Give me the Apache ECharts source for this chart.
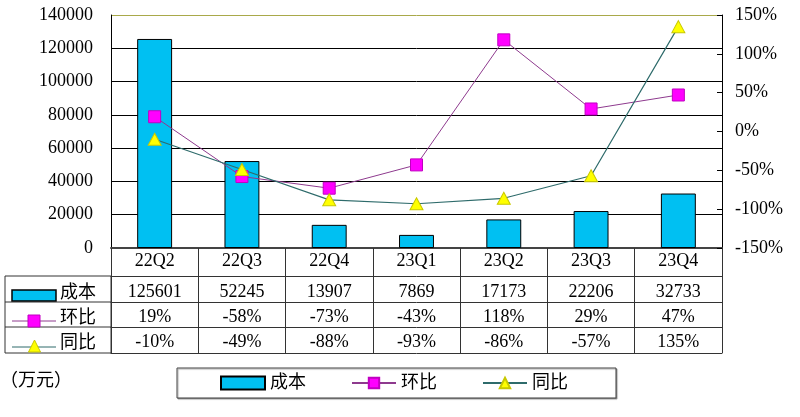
<!DOCTYPE html>
<html>
<head>
<meta charset="utf-8">
<script src="https://cdn.jsdelivr.net/npm/echarts@6/dist/echarts.min.js"></script>
<style>html,body{margin:0;padding:0;background:#fff;}#c{width:800px;height:417px;}</style>
</head>
<body>
<div id="c"></div>
<script>
var categories = ['22Q2','22Q3','22Q4','23Q1','23Q2','23Q3','23Q4'];
var costValues = [125601, 52245, 13907, 7869, 17173, 22206, 32733];
var qoqValues = [19, -58, -73, -43, 118, 29, 47];
var yoyValues = [-10, -49, -88, -93, -86, -57, 135];
var seriesNames = ['成本', '环比', '同比'];
var unitLabel = '（万元）';

var FONT = "'Liberation Serif', 'Noto Sans CJK SC', serif";
var BAR = '#00c0f2';
var QOQ_LINE = '#8e3a8e', QOQ_SYM = '#ff00ff';
var YOY_LINE = '#2e6b6b', YOY_SYM = '#ffff00';
var GRID_C = '#333';

function tableAxis(data, offset, tickLen, margin) {
  return {
    type: 'category', gridIndex: 0, position: 'bottom', offset: offset,
    data: data, boundaryGap: true,
    axisLine: {show: true, onZero: false, lineStyle: {color: GRID_C, width: 1}},
    axisTick: {show: tickLen > 0, interval: 0, length: tickLen, lineStyle: {color: GRID_C, width: 1}},
    axisLabel: {show: margin !== null, interval: 0, margin: margin || 0, color: '#000', fontSize: 18, fontFamily: FONT},
    splitLine: {show: false}, axisPointer: {show: false}
  };
}

var chart = echarts.init(document.getElementById('c'));
var pctFmt = function (v) { return v + '%'; };
var catAxis = tableAxis(categories, 0, 28, 4);
catAxis.axisLine.lineStyle = {color: '#444', width: 2};

chart.setOption({
  animation: false,
  textStyle: {fontFamily: FONT},
  grid: {left: 111, right: 78, top: 15, bottom: 169, containLabel: false},
  xAxis: [
    catAxis,
    tableAxis(costValues.map(String), 28, 26, 7),
    tableAxis(qoqValues.map(pctFmt), 54, 25, 6),
    tableAxis(yoyValues.map(pctFmt), 79, 26, 6),
    tableAxis(categories, 105, 0, null)
  ],
  yAxis: [
    {
      type: 'value', min: 0, max: 140000, interval: 20000, position: 'left',
      axisLine: {show: true, onZero: false, lineStyle: {color: '#000', width: 1}},
      axisTick: {show: false},
      axisLabel: {margin: 18, color: '#000', fontSize: 18, fontFamily: FONT, formatter: function (v) { return String(v); }},
      splitLine: {show: true, lineStyle: {width: 1, color: ['#000','#000','#000','#000','#000','#000','#000','#a9a94a']}}
    },
    {
      type: 'value', min: -150, max: 150, interval: 50, position: 'right',
      axisLine: {show: true, onZero: false, lineStyle: {color: '#000', width: 1}},
      axisTick: {show: true, inside: true, length: 5, lineStyle: {color: '#000'}},
      axisLabel: {margin: 13, color: '#000', fontSize: 18, fontFamily: FONT, formatter: '{value}%'},
      splitLine: {show: false}
    }
  ],
  legend: {
    left: 177, top: 368,
    padding: [6, 48, 6, 43],
    itemGap: 45, itemWidth: 44, itemHeight: 13,
    borderColor: '#444', borderWidth: 1, backgroundColor: '#fff',
    shadowColor: 'rgba(0,0,0,0.35)', shadowOffsetX: 1, shadowOffsetY: 1, shadowBlur: 1,
    textStyle: {fontSize: 18, color: '#000', fontFamily: FONT},
    data: [{name: seriesNames[0], icon: 'rect'}, {name: seriesNames[1]}, {name: seriesNames[2]}]
  },
  series: [
    {
      name: seriesNames[0], type: 'bar', xAxisIndex: 0, yAxisIndex: 0, data: costValues,
      barWidth: '40%',
      itemStyle: {color: BAR, borderColor: '#000', borderWidth: 1}
    },
    {
      name: seriesNames[1], type: 'line', xAxisIndex: 0, yAxisIndex: 1, data: qoqValues,
      symbol: 'rect', symbolSize: 12,
      itemStyle: {color: QOQ_SYM, borderColor: '#c000c0', borderWidth: 1},
      lineStyle: {color: QOQ_LINE, width: 1}
    },
    {
      name: seriesNames[2], type: 'line', xAxisIndex: 0, yAxisIndex: 1, data: yoyValues,
      symbol: 'triangle', symbolSize: [13, 12],
      itemStyle: {color: YOY_SYM, borderColor: '#c8c800', borderWidth: 1},
      lineStyle: {color: YOY_LINE, width: 1.2}
    }
  ],
  graphic: [
    {type: 'rect', shape: {x: 5, y: 276, width: 106, height: 77}, style: {fill: 'none', stroke: GRID_C, lineWidth: 1}},
    {type: 'line', shape: {x1: 5, y1: 302, x2: 111, y2: 302}, style: {stroke: GRID_C, lineWidth: 1}},
    {type: 'line', shape: {x1: 5, y1: 327, x2: 111, y2: 327}, style: {stroke: GRID_C, lineWidth: 1}},
    {type: 'rect', shape: {x: 12, y: 290, width: 44, height: 11}, style: {fill: BAR, stroke: '#000', lineWidth: 1.5}},
    {type: 'text', x: 60, y: 293, style: {text: seriesNames[0], fontSize: 18, fontFamily: FONT, fill: '#000', verticalAlign: 'middle'}},
    {type: 'line', shape: {x1: 12, y1: 321, x2: 56, y2: 321}, style: {stroke: QOQ_LINE, lineWidth: 1}},
    {type: 'rect', shape: {x: 28, y: 315, width: 12, height: 12}, style: {fill: QOQ_SYM, stroke: '#c000c0', lineWidth: 1}},
    {type: 'text', x: 60, y: 318, style: {text: seriesNames[1], fontSize: 18, fontFamily: FONT, fill: '#000', verticalAlign: 'middle'}},
    {type: 'line', shape: {x1: 12, y1: 347, x2: 56, y2: 347}, style: {stroke: YOY_LINE, lineWidth: 1}},
    {type: 'polygon', shape: {points: [[34.5, 340], [28.5, 352], [40.5, 352]]}, style: {fill: YOY_SYM, stroke: '#c8c800', lineWidth: 1}},
    {type: 'text', x: 60, y: 343, style: {text: seriesNames[2], fontSize: 18, fontFamily: FONT, fill: '#000', verticalAlign: 'middle'}},
    {type: 'text', x: 0, y: 381, style: {text: unitLabel, fontSize: 18, fontFamily: FONT, fill: '#000', verticalAlign: 'middle'}}
  ]
});
</script>
</body>
</html>
